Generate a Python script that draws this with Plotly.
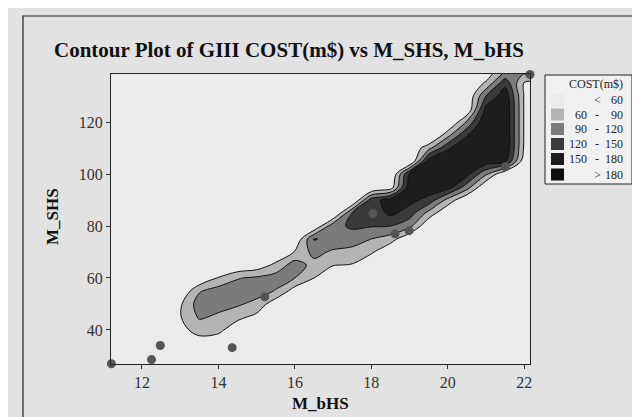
import plotly.graph_objects as go

# ---------------- data ----------------
x_grid = [11.2, 12, 12.5, 13, 13.5, 14, 14.5, 15, 15.5, 16, 16.5, 17, 17.5,
          18, 18.5, 19, 19.5, 20, 20.5, 21, 21.5, 22, 22.15]
y_grid = [27, 30, 35, 40, 45, 50, 55, 60, 65, 70, 75, 80, 85, 90, 95, 100,
          105, 110, 115, 120, 125, 130, 135, 138.5]

# GIII COST(m$); one row per y_grid value
cost_z = [
    [30, 30, 30, 30, 30, 30, 30, 30, 30, 30, 30, 30, 30, 30, 30, 30, 30, 30, 30, 30, 30, 30, 30],
    [30, 30, 30, 30, 30, 30, 30, 30, 30, 30, 30, 30, 30, 30, 30, 30, 30, 30, 30, 30, 30, 30, 30],
    [30, 30, 30, 30, 45, 40, 30, 30, 30, 30, 30, 30, 30, 30, 30, 30, 30, 30, 30, 30, 30, 30, 30],
    [30, 30, 30, 50, 72, 68, 40, 30, 30, 30, 30, 30, 30, 30, 30, 30, 30, 30, 30, 30, 30, 30, 30],
    [30, 30, 30, 58, 94, 85, 68, 52, 30, 30, 30, 30, 30, 30, 30, 30, 30, 30, 30, 30, 30, 30, 30],
    [30, 30, 30, 55, 105, 100, 95, 80, 40, 30, 30, 30, 30, 30, 30, 30, 30, 30, 30, 30, 30, 30, 30],
    [30, 30, 30, 30, 87, 105, 105, 105, 88, 45, 30, 30, 30, 30, 30, 30, 30, 30, 30, 30, 30, 30, 30],
    [30, 30, 30, 30, 30, 62, 88, 95, 104, 90, 60, 30, 30, 30, 30, 30, 30, 30, 30, 30, 30, 30, 30],
    [30, 30, 30, 30, 30, 30, 30, 40, 68, 105, 80, 62, 58, 30, 30, 30, 30, 30, 30, 30, 30, 30, 30],
    [30, 30, 30, 30, 30, 30, 30, 30, 30, 62, 100, 85, 80, 65, 30, 30, 30, 30, 30, 30, 30, 30, 30],
    [30, 30, 30, 30, 30, 30, 30, 30, 30, 30, 122, 112, 105, 90, 75, 30, 30, 30, 30, 30, 30, 30, 30],
    [30, 30, 30, 30, 30, 30, 30, 30, 30, 30, 30, 110, 125, 122, 120, 100, 30, 30, 30, 30, 30, 30, 30],
    [30, 30, 30, 30, 30, 30, 30, 30, 30, 30, 30, 20, 122, 128, 158, 135, 80, 30, 30, 30, 30, 30, 30],
    [30, 30, 30, 30, 30, 30, 30, 30, 30, 30, 30, 30, 20, 135, 165, 160, 140, 80, 30, 30, 30, 30, 30],
    [30, 30, 30, 30, 30, 30, 30, 30, 30, 30, 30, 30, 30, 20, 40, 170, 170, 165, 105, 30, 30, 30, 30],
    [30, 30, 30, 30, 30, 30, 30, 30, 30, 30, 30, 30, 30, 30, 20, 155, 175, 177, 160, 95, 30, 30, 30],
    [30, 30, 30, 30, 30, 30, 30, 30, 30, 30, 30, 30, 30, 30, 30, 20, 165, 178, 178, 170, 160, 40, 30],
    [30, 30, 30, 30, 30, 30, 30, 30, 30, 30, 30, 30, 30, 30, 30, 30, 80, 145, 178, 178, 178, 55, 30],
    [30, 30, 30, 30, 30, 30, 30, 30, 30, 30, 30, 30, 30, 30, 30, 30, 10, 80, 148, 178, 178, 57, 30],
    [30, 30, 30, 30, 30, 30, 30, 30, 30, 30, 30, 30, 30, 30, 30, 30, 30, 20, 95, 178, 178, 57, 30],
    [30, 30, 30, 30, 30, 30, 30, 30, 30, 30, 30, 30, 30, 30, 30, 30, 30, 30, 30, 160, 178, 57, 30],
    [30, 30, 30, 30, 30, 30, 30, 30, 30, 30, 30, 30, 30, 30, 30, 30, 30, 30, 30, 120, 170, 57, 30],
    [30, 30, 30, 30, 30, 30, 30, 30, 30, 30, 30, 30, 30, 30, 30, 30, 30, 30, 30, 65, 140, 57, 30],
    [30, 30, 30, 30, 30, 30, 30, 30, 30, 30, 30, 30, 30, 30, 30, 30, 30, 30, 30, 40, 100, 90, 170],
]

pts_mbhs = [11.2, 12.25, 12.48, 14.36, 15.21, 18.04, 18.62, 18.99, 21.51, 22.15]
pts_mshs = [27.0, 28.6, 34.0, 33.2, 52.8, 84.7, 77.0, 78.2, 102.8, 138.3]

levels = [60, 90, 120, 150, 180]
band_colors = ['#ebebeb', '#b4b4b4', '#7b7b7b', '#3a3a3a', '#1d1d1d', '#0f0f0f']
legend_lo = ['', '60', '90', '120', '150', '']
legend_mid = ['<', '-', '-', '-', '-', '>']
legend_hi = ['60', '90', '120', '150', '180', '180']

x_ticks = [12, 14, 16, 18, 20, 22]
y_ticks = [40, 60, 80, 100, 120]

# ---------------- layout geometry (pixels) ----------------
W, H = 640, 417
L, R, T, B = 103, 522, 66, 356
FONT = 'Liberation Serif'


def px(xp):
    return (xp - L) / (R - L)


def py(yp):
    return (B - yp) / (B - T)


# stepped colorscale: one colour per band
n = len(band_colors)
cscale = []
for i, c in enumerate(band_colors):
    lo = max(0, (i - 0.5) / (n - 1))
    hi = min(1, (i + 0.5) / (n - 1))
    cscale.append([lo, c])
    cscale.append([hi, c])

fig = go.Figure()
fig.add_trace(go.Contour(
    x=x_grid, y=y_grid, z=cost_z,
    autocontour=False,
    contours=dict(start=levels[0], end=levels[-1], size=levels[1] - levels[0],
                  coloring='fill'),
    colorscale=cscale, showscale=False,
    line=dict(color='#111111', width=1, smoothing=1),
    hoverinfo='skip',
))
fig.add_trace(go.Scatter(
    x=pts_mbhs, y=pts_mshs, mode='markers',
    marker=dict(color='#555555', size=9),
    cliponaxis=False, showlegend=False,
))

shapes = []
# outer frame
shapes.append(dict(type='rect', xref='paper', yref='paper',
                   x0=px(15), x1=px(700), y0=py(480), y1=py(8),
                   line=dict(color='#222222', width=1.2), fillcolor='rgba(0,0,0,0)',
                   layer='below'))
# legend box
shapes.append(dict(type='rect', xref='paper', yref='paper',
                   x0=px(537), x1=px(624), y0=py(176), y1=py(67),
                   line=dict(color='#222222', width=1), fillcolor='#f1f1f1'))
annotations = []
annotations.append(dict(xref='paper', yref='paper', x=px(588), y=py(76),
                        text='COST(m$)', showarrow=False,
                        font=dict(family=FONT, size=12, color='#222'),
                        xanchor='center', yanchor='middle'))
row_y = [92, 106.5, 121, 136, 151, 166.5]
for i in range(n):
    yc = row_y[i]
    shapes.append(dict(type='rect', xref='paper', yref='paper',
                       x0=px(543), x1=px(556), y0=py(yc + 6), y1=py(yc - 6),
                       line=dict(width=0), fillcolor=band_colors[i]))
    if legend_lo[i]:
        annotations.append(dict(xref='paper', yref='paper', x=px(581), y=py(yc),
                                text=legend_lo[i], showarrow=False,
                                font=dict(family=FONT, size=12, color='#222'),
                                xanchor='right', yanchor='middle'))
    annotations.append(dict(xref='paper', yref='paper', x=px(589), y=py(yc),
                            text=legend_mid[i], showarrow=False,
                            font=dict(family=FONT, size=12, color='#222'),
                            xanchor='center', yanchor='middle'))
    annotations.append(dict(xref='paper', yref='paper', x=px(617), y=py(yc),
                            text=legend_hi[i], showarrow=False,
                            font=dict(family=FONT, size=12, color='#222'),
                            xanchor='right', yanchor='middle'))

# title and axis titles
annotations.append(dict(xref='paper', yref='paper', x=px(281), y=py(42),
                        text='<b>Contour Plot of GIII COST(m$) vs M_SHS, M_bHS</b>',
                        showarrow=False, xanchor='center', yanchor='middle',
                        font=dict(family=FONT, size=21, color='#111')))
annotations.append(dict(xref='paper', yref='paper', x=px(312.5), y=py(395),
                        text='<b>M_bHS</b>', showarrow=False,
                        xanchor='center', yanchor='middle',
                        font=dict(family=FONT, size=17, color='#111')))
annotations.append(dict(xref='paper', yref='paper', x=px(44), y=py(208),
                        text='<b>M_SHS</b>', showarrow=False, textangle=-90,
                        xanchor='center', yanchor='middle',
                        font=dict(family=FONT, size=17, color='#111')))

axis_common = dict(showgrid=False, zeroline=False, showline=True, mirror=True,
                   linecolor='#222222', linewidth=1, ticks='outside', ticklen=4,
                   tickcolor='#333333', tickwidth=1,
                   tickfont=dict(family=FONT, size=16, color='#333'))

fig.update_layout(
    width=W, height=H,
    margin=dict(l=L, r=W - R, t=T, b=H - B, pad=0),
    paper_bgcolor='#e2e2e2', plot_bgcolor='#ebebeb',
    showlegend=False,
    xaxis=dict(range=[11.19, 22.15], tickvals=x_ticks, **axis_common),
    yaxis=dict(range=[26.9, 138.5], tickvals=y_ticks, **axis_common),
    shapes=shapes, annotations=annotations,
)

fig.write_html('out.html')
